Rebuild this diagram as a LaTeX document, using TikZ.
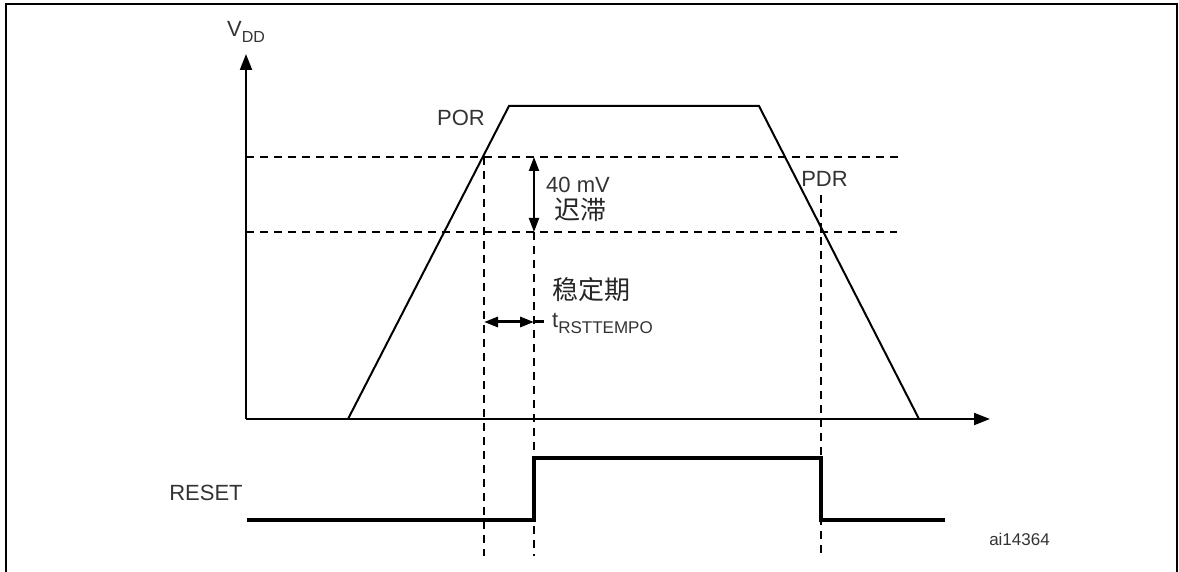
\documentclass[tikz,border=0pt]{standalone}
\usepackage{fontspec}
\setmainfont{Liberation Sans}
\newfontfamily\cjk{Noto Sans CJK SC}
\usetikzlibrary{arrows.meta}
\begin{document}
\begin{tikzpicture}[x=1pt,y=-1pt,
  solidline/.style={line width=2pt, line join=miter},
  dashline/.style={line width=2pt, dash pattern=on 8pt off 6pt},
  sig/.style={line width=4pt, line join=miter},
  axistip/.style={-{Triangle[length=16pt,width=12pt]}},
  dbl/.style={{Triangle[length=14pt,width=10pt]}-{Triangle[length=14pt,width=10pt]}},
  lbl/.style={inner sep=0pt, text=black!80, font=\fontsize{22}{26}\selectfont},
  cjklbl/.style={inner sep=0pt, text=black!85, font=\cjk\fontsize{26}{30}\selectfont},
  small/.style={inner sep=0pt, text=black!80, font=\fontsize{17}{20}\selectfont}
]
\useasboundingbox (0,0) rectangle (1179,572);
% frame
\coordinate (F1) at (6,574);
\coordinate (F2) at (6,4);
\coordinate (F3) at (1177,4);
\coordinate (F4) at (1177,574);
\draw[line width=2pt] (F1) -- (F2) -- (F3) -- (F4);
% axes
\coordinate (O) at (246,419);
\coordinate (Ytop) at (246,54);
\coordinate (Xend) at (990,419);
\draw[solidline, axistip] (O) -- (Ytop);
\draw[solidline, axistip] (O) -- (Xend);
% trapezoid
\coordinate (A) at (348,419);
\coordinate (B) at (509,106);
\coordinate (C) at (759,106);
\coordinate (D) at (919,419);
\draw[solidline] (A) -- (B) -- (C) -- (D);
% threshold lines
\coordinate (H1l) at (246,157);
\coordinate (H1r) at (900,157);
\coordinate (H2l) at (246,232);
\coordinate (H2r) at (897,232);
\draw[dashline] (H1l) -- (H1r);
\draw[dashline] (H2l) -- (H2r);
% vertical dashed
\coordinate (V1t) at (484,157);
\coordinate (V1b) at (484,556);
\coordinate (V2t) at (534,232);
\coordinate (V2b) at (534,556);
\coordinate (V3t) at (821,195);
\coordinate (V3b) at (821,556);
\draw[dashline] (V1t) -- (V1b);
\draw[dashline] (V2t) -- (V2b);
\draw[dashline] (V3t) -- (V3b);
% hysteresis arrow
\coordinate (M1) at (534,157);
\coordinate (M2) at (534,232);
\draw[solidline, dbl] (M1) -- (M2);
% tempo arrow
\coordinate (T1) at (484,322);
\coordinate (T2) at (534,322);
\coordinate (T3) at (544,322);
\draw[line width=3pt, dbl] (T1) -- (T2);
\draw[line width=3pt] (T2) -- (T3);
% reset signal
\coordinate (R0) at (247,520);
\coordinate (R1) at (534,520);
\coordinate (R2) at (534,458);
\coordinate (R3) at (821,458);
\coordinate (R4) at (821,520);
\coordinate (R5) at (945,520);
\draw[sig] (R0) -- (R1) -- (R2) -- (R3) -- (R4) -- (R5);
% labels
\node[lbl, anchor=base west] (vdd) at (227,37) {V\raisebox{-6pt}{\fontsize{16}{18}\selectfont DD}};
\node[lbl] (por) at (461,117.5) {POR};
\node[lbl] (pdr) at (824.5,178.5) {PDR};
\node[lbl] (mv) at (578,184.5) {40 mV};
\node[cjklbl, anchor=base west] (hys) at (554,220) {迟滞};
\node[cjklbl, anchor=base west] (stab) at (552,300) {稳定期};
\node[lbl, anchor=base west] (trst) at (552,327) {t\raisebox{-6pt}{\fontsize{17}{20}\selectfont RSTTEMPO}};
\node[lbl] (reset) at (206,493) {RESET};
\node[small] (ai) at (1019.5,539) {ai14364};
\end{tikzpicture}
\end{document}
